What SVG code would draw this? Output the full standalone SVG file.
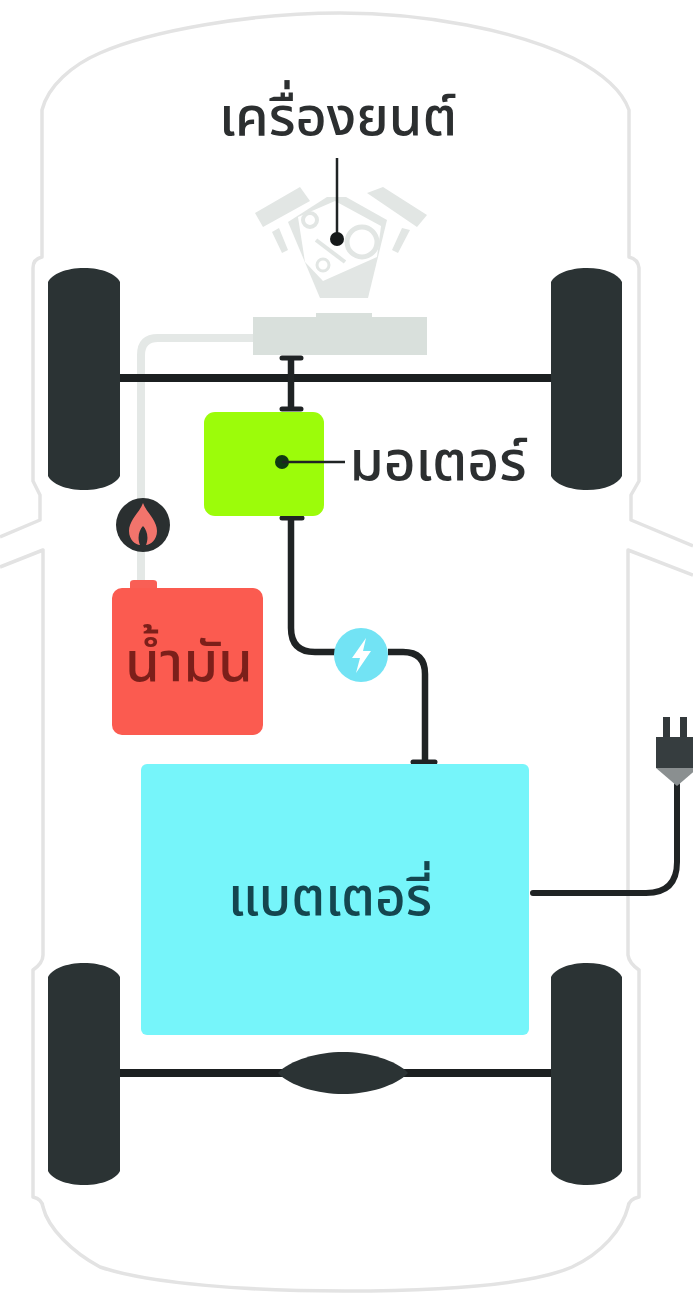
<svg xmlns="http://www.w3.org/2000/svg" width="693" height="1301" viewBox="0 0 693 1301">
<style>
.outline{fill:none;stroke:#e3e3e3;stroke-width:3.5;stroke-linejoin:round}
.wheel{fill:#2b3334}
.wire{fill:none;stroke:#1f2324;stroke-width:6.5}
.cap{fill:none;stroke:#1f2324;stroke-width:5;stroke-linecap:round}
.axle{fill:none;stroke:#1b1f20;stroke-width:8}
.eng{fill:#e2e6e4}
.leader{fill:none;stroke:#1f2324;stroke-width:2.5}
.lbl{font-family:"Noto Sans Thai","Noto Sans","Noto Sans CJK SC","DejaVu Sans",sans-serif;font-weight:500;fill:#2c2f30;text-anchor:middle}
</style>
<rect width="693" height="1301" fill="#fff"/>
<g id="car-body">
<path class="outline" d="M0 537 L40 520 V495 L33 481 V268 Q33 259 42 257 V110 C48 86 72 65 100 53 C150 31 250 13 340 13 C425 13 515 30 573 58 C600 72 622 90 629 110 V257 Q638 259 639 268 V481 L631 495 V520 L693 546"/>
<path class="outline" d="M0 567 L43 550 V955 Q43 963 33 970 V1197 Q42 1199 43 1207 C48 1228 72 1252 100 1267 C150 1284 250 1291 345 1291 C440 1291 530 1285 572 1267 C602 1253 622 1230 628 1207 Q629 1199 639 1197 V970 Q629 963 628 955 V550 L693 575"/>
</g>
<g id="connectors">
<path d="M253 338 H158 Q141 338 141 355 V500 M141 550 V582" fill="none" stroke="#e4e8e6" stroke-width="8"/>
<path class="axle" d="M120 378 H551"/>
<path class="axle" d="M120 1073 H551"/>
<path class="wire" d="M291 358 V409"/>
<path class="cap" d="M282 358 H301 M282 409 H301"/>
<path class="wire" d="M291 518 V628 Q291 652 315 652 H335 M388 652 H403 Q425 652 425 674 V761"/>
<path class="cap" d="M282 518 H302 M413 762 H435"/>
<path d="M677 785 V862 Q677 893 646 893 H533" fill="none" stroke="#1f2324" stroke-width="6" stroke-linecap="round"/>
</g>
<g id="wheel-front-left"><path class="wheel" d="M48 282 C52 274 66 268 84 268 C102 268 116 274 120 282 V476 C116 484 102 490 84 490 C66 490 52 484 48 476 Z"/></g>
<g id="wheel-front-right"><path class="wheel" d="M551 282 C555 274 569 268 587 268 C605 268 618 274 622 282 V476 C618 484 605 490 587 490 C569 490 555 484 551 476 Z"/></g>
<g id="wheel-rear-left"><path class="wheel" d="M48 977 C52 969 66 963 84 963 C102 963 116 969 120 977 V1171 C116 1179 102 1185 84 1185 C66 1185 52 1179 48 1171 Z"/></g>
<g id="wheel-rear-right"><path class="wheel" d="M551 977 C555 969 569 963 587 963 C605 963 618 969 622 977 V1171 C618 1179 605 1185 587 1185 C569 1185 555 1179 551 1171 Z"/></g>
<g id="differential"><path class="wheel" d="M278 1073 C290 1060 318 1052 343 1052 C368 1052 396 1060 408 1073 C396 1086 368 1094 343 1094 C318 1094 290 1086 278 1073 Z"/></g>
<g id="engine">
<path class="eng" d="M255 213 L300 187 L310 201 L263 227 Z M367 193 L383 187 L427 215 L417 227 Z M272 232 L279 228 L288 250 L282 253 Z M410 230 L402 228 L392 250 L398 253 Z"/>
<path class="eng" d="M288 222 L327 197 L346 197 L387 220 L368 298 L320 298 Z"/>
<path d="M298 217 L335 201 L381 226 L377 257 L323 281 L305 262 Z" fill="#fff"/>
<circle cx="310" cy="220" r="7" fill="none" stroke="#e2e6e4" stroke-width="4"/>
<circle cx="362" cy="242" r="15" fill="none" stroke="#e2e6e4" stroke-width="5"/>
<circle cx="323" cy="265" r="6" fill="none" stroke="#e2e6e4" stroke-width="3"/>
<path d="M316 240 L345 262" stroke="#e2e6e4" stroke-width="4"/>
</g>
<g id="transmission"><path d="M253 317 H316 V313 H372 V317 H427 V355 H253 Z" fill="#d9e0dc"/></g>
<g id="flame"><circle cx="143" cy="525" r="27" fill="#2a2f30"/><path d="M143 503 C146 512 157 520 157 531 C157 540 150 545 146 545 C149 538 147 530 143 526 C139 530 137 538 140 545 C136 545 129 540 129 531 C129 520 140 512 143 503 Z" fill="#f2746c"/></g>
<g id="fuel-tank"><path d="M130 588 V583 Q130 580 134 580 H153 Q157 580 157 583 V588 Z" fill="#f95f55"/><rect x="112" y="588" width="151" height="147" rx="10" fill="#fb5b50"/><text class="lbl" x="189" y="681" font-size="56" style="fill:#7c1f1a">น้ำมัน</text></g>
<g id="motor"><rect x="204" y="412" width="120" height="104" rx="11" fill="#9cfc0a"/><circle cx="282" cy="462" r="7" fill="#0f3a12"/><path class="leader" d="M282 462 H345"/></g>
<text class="lbl" x="438" y="480" font-size="55">มอเตอร์</text>
<g id="engine-label"><text class="lbl" x="338" y="135" font-size="54">เครื่องยนต์</text><path class="leader" d="M337 158 V239"/><circle cx="337" cy="239" r="7" fill="#16191a"/></g>
<g id="battery"><rect x="141" y="764" width="388" height="271" rx="6" fill="#76f5fa"/><text class="lbl" x="330" y="915" font-size="53" style="fill:#14464f">แบตเตอรี่</text></g>
<g id="charge"><circle cx="361" cy="655" r="27" fill="#72e3f4"/><path d="M366 638 L352 658 H360 L356 673 L371 651 H363 Z" fill="#fff"/></g>
<g id="plug"><path d="M663 717 H670 V737 H663 Z M680 717 H687 V737 H680 Z" fill="#33393b"/><path d="M656 737 H698 V768 H656 Z" fill="#363d3f"/><path d="M656 768 H698 L677 786 Z" fill="#8a8f90"/></g>
</svg>
